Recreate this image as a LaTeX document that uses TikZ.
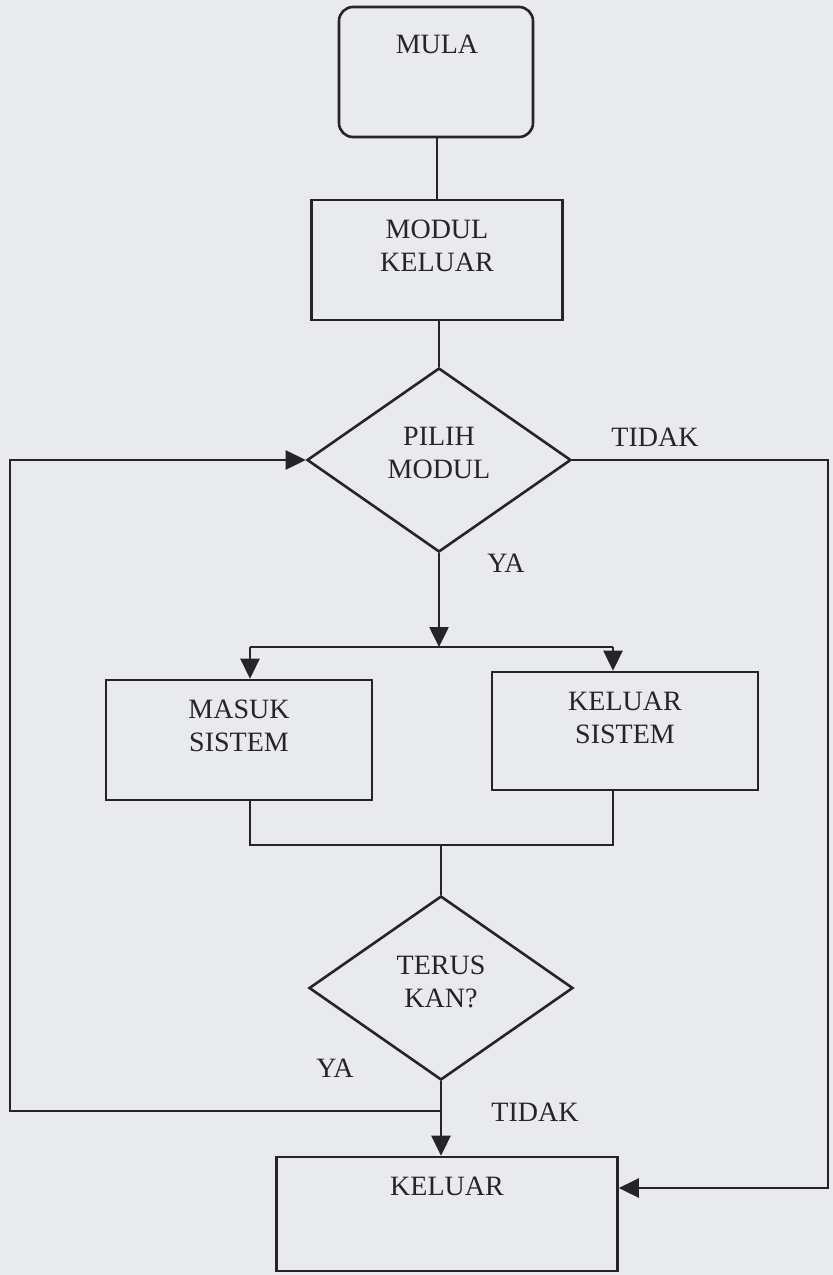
\documentclass[tikz,border=0pt]{standalone}
\usepackage{fontspec}
\setmainfont{Liberation Serif}
\usetikzlibrary{shapes.geometric,arrows.meta}
\definecolor{paper}{RGB}{232,234,236}
\definecolor{ink}{RGB}{38,36,38}
\begin{document}
\begin{tikzpicture}[x=1pt,y=-1pt,
  txt/.style={font=\fontsize{28}{33}\selectfont, text=ink, align=center, inner sep=0pt},
  boxshape/.style={draw=ink, line width=2.6pt, inner sep=0pt},
  decision/.style={boxshape, diamond, minimum width=264pt, minimum height=184pt},
  link/.style={draw=ink, line width=2.6pt},
  arr/.style={link, -{Triangle[length=20pt,width=19pt]}},
]
\fill[paper] (0,0) rectangle (833,1275);
\useasboundingbox (0,0) rectangle (833,1275);

% nodes
\node[boxshape, rounded corners=14pt, minimum width=194pt, minimum height=130pt] (mula) at (436,72) {};
\node[txt, anchor=north] (mulat) at (437,35) {MULA};

\node[boxshape, minimum width=251pt, minimum height=120pt] (modul) at (437,260) {};
\node[txt, anchor=north] (modult) at (437,220) {MODUL\\KELUAR};

\node[decision] (pilih) at (439,460) {};
\node[txt] (pilihLbl) at (439,453) {PILIH\\MODUL};

\node[boxshape, minimum width=266pt, minimum height=120pt] (masuk) at (239,740) {};
\node[txt, anchor=north] (masukt) at (239,700) {MASUK\\SISTEM};

\node[boxshape, minimum width=266pt, minimum height=118pt] (kelsis) at (625,731) {};
\node[txt, anchor=north] (kelsist) at (625,692) {KELUAR\\SISTEM};

\node[decision] (terus) at (441,988) {};
\node[txt] (terusLbl) at (441,982) {TERUS\\KAN?};

\node[boxshape, minimum width=341pt, minimum height=114pt] (keluar) at (447,1214) {};
\node[txt, anchor=north] (keluart) at (447,1177) {KELUAR};

% labels
\node[txt] (tidak1) at (655,437) {TIDAK};
\node[txt] (ya1) at (506,563) {YA};
\node[txt] (ya2) at (335,1068) {YA};
\node[txt] (tidak2) at (535,1112) {TIDAK};

% junctions
\coordinate (j1) at (439,647);
\coordinate (j2) at (441,845);
\coordinate (aL) at (250,0);
\coordinate (aR) at (613,0);
\coordinate (loopy) at (441,1111);
\coordinate (lx) at (10,0);
\coordinate (rx) at (828,0);
\coordinate (k1) at (828,1188);

% connectors
\draw[link] (mula.south -| modul.north) -- (modul.north);
\draw[link] (modul.south -| pilih.north) -- (pilih.north);
\draw[arr] (pilih.south) -- (j1);
\draw[link] (aL |- j1) -- (aR |- j1);
\draw[arr] (aL |- j1) -- (aL |- masuk.north);
\draw[arr] (aR |- j1) -- (aR |- kelsis.north);
\draw[link] (aL |- masuk.south) -- (aL |- j2) -- (aR |- j2) -- (aR |- kelsis.south);
\draw[link] (j2) -- (terus.north);
\draw[arr] (terus.south) -- (terus.south |- keluar.north);
\draw[arr] (loopy) -- (lx |- loopy) -- (lx |- pilih.west) -- (pilih.west);
\draw[arr] (pilih.east) -- (rx |- pilih.east) -- (k1) -- (keluar.east |- k1);
\end{tikzpicture}
\end{document}
